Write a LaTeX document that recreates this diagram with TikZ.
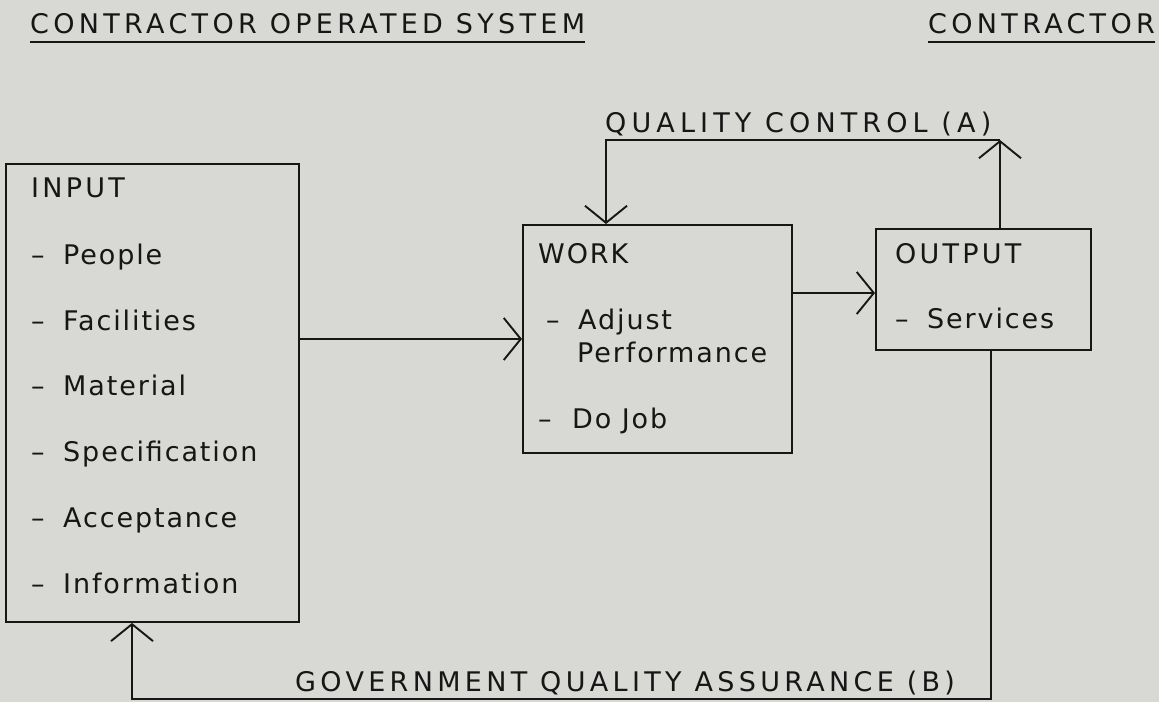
\documentclass[tikz,border=0pt]{standalone}
\usepackage{fontspec}
\setmainfont{DejaVu Sans}
\newfontfamily\capfont[LetterSpace=16]{DejaVu Sans}
\newfontfamily\qcfont[LetterSpace=19]{DejaVu Sans}
\newfontfamily\boxfont[LetterSpace=7]{DejaVu Sans}
\newfontfamily\boxcapfont[LetterSpace=12]{DejaVu Sans}
\usetikzlibrary{arrows.meta}
\definecolor{bg}{RGB}{216,217,212}
\definecolor{ink}{RGB}{22,22,22}
\begin{document}
\begin{tikzpicture}[x=1pt,y=-1pt,
  box/.style={draw=ink,line width=1.9pt,inner sep=0pt,anchor=north west},
  lbl/.style={inner sep=0pt,anchor=base west,text=ink,font=\capfont\fontsize{27}{30}\selectfont},
  txt/.style={inner sep=0pt,anchor=base west,text=ink,font=\boxfont\fontsize{27}{30}\selectfont},
  boxcap/.style={txt,font=\boxcapfont\fontsize{27}{30}\selectfont},
  conn/.style={draw=ink,line width=1.9pt},
  arr/.style={conn,-{Straight Barb[length=17pt,width=42pt]}},
  uline/.style={draw=ink,line width=2pt}]
\fill[bg] (0,0) rectangle (1159,702);
\useasboundingbox (0,0) rectangle (1159,702);

% headings
\node[lbl] (title) at (30,33) {CONTRACTOR OPERATED SYSTEM};
\draw[uline] ([yshift=-9pt]title.base west) -- ([yshift=-9pt]title.base east);
\node[lbl] (ctr) at (928,33) {CONTRACTOR};
\draw[uline] ([yshift=-9pt]ctr.base west) -- ([yshift=-9pt]ctr.base east);

% boxes
\node[box,minimum width=293pt,minimum height=458pt] (input) at (5,163) {};
\node[box,minimum width=269pt,minimum height=228pt] (work) at (522,224) {};
\node[box,minimum width=215pt,minimum height=121pt] (output) at (875,228) {};

% INPUT text
\node[boxcap] (inT) at (31,197) {INPUT};
\node[txt] (inD1) at (31,264) {–};  \node[txt] (in1) at (63,264) {People};
\node[txt] (inD2) at (31,330) {–};  \node[txt] (in2) at (63,330) {Facilities};
\node[txt] (inD3) at (31,395) {–};  \node[txt] (in3) at (63,395) {Material};
\node[txt] (inD4) at (31,461) {–};  \node[txt] (in4) at (63,461) {Specification};
\node[txt] (inD5) at (31,527) {–};  \node[txt] (in5) at (63,527) {Acceptance};
\node[txt] (inD6) at (31,593) {–};  \node[txt] (in6) at (63,593) {Information};

% WORK text
\node[txt] (wkT) at (538,263) {WORK};
\node[txt] (wkD1) at (546,329) {–}; \node[txt] (wk1) at (578,329) {Adjust};
\node[txt] (wk1b) at (577,362) {Performance};
\node[txt] (wkD2) at (538,428) {–}; \node[txt] (wk2) at (572,428) {Do Job};

% OUTPUT text
\node[boxcap] (outT) at (895,263) {OUTPUT};
\node[txt] (outD) at (895,328) {–}; \node[txt] (out1) at (927,328) {Services};

% connector labels
\node[lbl,font=\qcfont\fontsize{27}{30}\selectfont] (qc) at (605,132) {QUALITY CONTROL (A)};
\node[lbl] (gqa) at (295,691) {GOVERNMENT QUALITY ASSURANCE (B)};

% connectors
\coordinate (y1) at (0,339);
\coordinate (y2) at (0,293);
\coordinate (qcR) at (1000,140);
\coordinate (qcL) at (606,140);
\coordinate (gaR) at (991,699);
\coordinate (gaL) at (132,699);

\draw[arr] (input.east |- y1) -- (work.west |- y1);
\draw[arr] (work.east |- y2) -- (output.west |- y2);
\draw[arr] (qcR |- output.north) -- (qcR);
\draw[arr] (qcR) -- (qcL) -- (qcL |- work.north);
\draw[arr] (gaR |- output.south) -- (gaR) -- (gaL) -- (gaL |- input.south);
\end{tikzpicture}
\end{document}
